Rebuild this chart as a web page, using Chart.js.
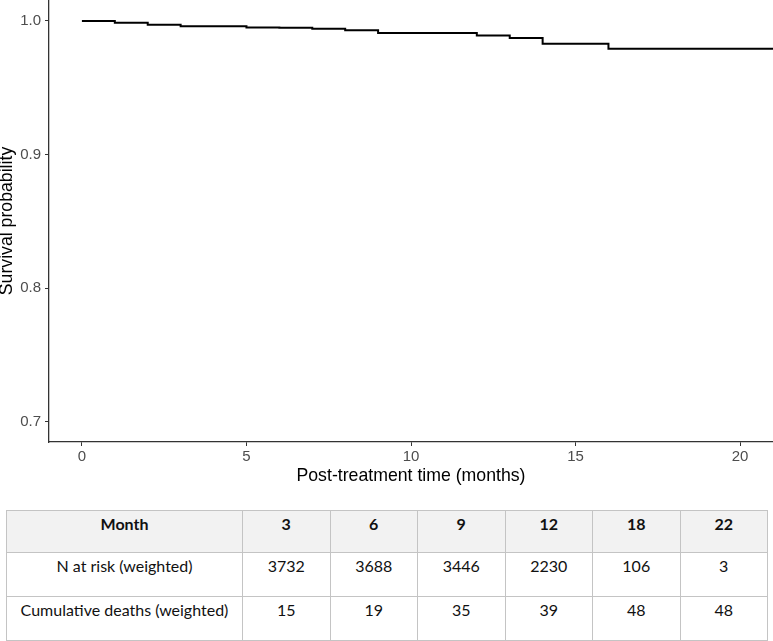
<!DOCTYPE html>
<html>
<head>
<meta charset="utf-8">
<script src="https://cdn.jsdelivr.net/npm/chart.js@4/dist/chart.umd.min.js"></script>
<style>
    html, body { margin: 0; padding: 0; background: #fff; }
    #wrap { position: absolute; left: 0; top: 0; width: 773px; height: 492px; }
    #risk {
        position: absolute; left: 6px; top: 510px; width: 762px;
        border-collapse: collapse; table-layout: fixed;
        font-family: Lato, "Open Sans", sans-serif; font-size: 16px; color: #111;
    }
    #risk td, #risk th {
        border: 1px solid #c4c4c4; text-align: center; vertical-align: top;
        padding: 3px 2px 0 2px; line-height: 19px;
    }
    #risk th { background: #f2f2f2; font-weight: bold; height: 38px; }
    #risk td { height: 40px; }
    #risk col.first { width: 236px; }
</style>
</head>
<body>
<div id="wrap"><canvas id="km"></canvas></div>
<table id="risk"></table>
<script>
// Kaplan-Meier curve (months, survival)
const times    = [0, 1, 2, 3, 5, 6, 7, 8, 9, 12, 13, 14, 16, 21];
const survival = [1.0, 0.9987, 0.9972, 0.996, 0.9952, 0.995, 0.9942, 0.993, 0.991, 0.9892, 0.9873, 0.983, 0.9793, 0.9793];

const xTicks = [0, 5, 10, 15, 20];
const yTicks = [0.7, 0.8, 0.9, 1.0];

// risk table
const months      = [3, 6, 9, 12, 18, 22];
const nAtRisk     = [3732, 3688, 3446, 2230, 106, 3];
const cumDeaths   = [15, 19, 35, 39, 48, 48];

document.addEventListener("DOMContentLoaded", () => {
    const tickFont = { family: "'Liberation Sans', Arial, sans-serif", size: 15 };
    const titleFont = { family: "'Liberation Sans', Arial, sans-serif", size: 17.7 };
    const yTitleFont = { ...titleFont, lineHeight: 0.75 };

    new Chart(document.getElementById('km'), {
        type: 'line',
        data: {
            datasets: [{
                data: times.map((t, i) => ({ x: t, y: survival[i] })),
                borderColor: '#000',
                borderWidth: 2,
                stepped: true,
                pointRadius: 0,
                fill: false
            }]
        },
        options: {
            responsive: true,
            maintainAspectRatio: false,
            animation: false,
            layout: { padding: 0 },
            plugins: { legend: { display: false }, tooltip: { enabled: false } },
            scales: {
                x: {
                    type: 'linear',
                    min: -1,
                    max: 21,
                    afterBuildTicks: s => { s.ticks = xTicks.map(v => ({ value: v })); },
                    afterFit: s => { s.height = 50; s.paddingLeft = 0; s.paddingRight = 0; },
                    border: { display: true, color: '#333', width: 1.3 },
                    grid: { drawOnChartArea: false, drawTicks: true, tickLength: 4, color: '#333' },
                    ticks: { font: tickFont, color: '#4d4d4d', padding: 2, maxRotation: 0 },
                    title: { display: true, text: 'Post-treatment time (months)', font: titleFont, color: '#000', padding: { top: 0, bottom: 5 } }
                },
                y: {
                    min: 0.685,
                    max: 1.0157,
                    afterBuildTicks: s => { s.ticks = yTicks.map(v => ({ value: v })); },
                    afterFit: s => { s.width = 49; s.paddingTop = 0; s.paddingBottom = 0; },
                    border: { display: true, color: '#333', width: 1.3 },
                    grid: { drawOnChartArea: false, drawTicks: true, tickLength: 4, color: '#333' },
                    ticks: { font: tickFont, color: '#4d4d4d', padding: 4, callback: v => v.toFixed(1) },
                    title: { display: true, text: 'Survival probability', font: yTitleFont, color: '#000', padding: { top: 0, bottom: 0 } }
                }
            }
        }
    });

    // build the table
    const table = document.getElementById('risk');
    let html = '<colgroup><col class="first">' + months.map(() => '<col>').join('') + '</colgroup>';
    html += '<tr><th>Month</th>' + months.map(m => `<th>${m}</th>`).join('') + '</tr>';
    html += '<tr><td>N at risk (weighted)</td>' + nAtRisk.map(n => `<td>${n}</td>`).join('') + '</tr>';
    html += '<tr><td>Cumulative deaths (weighted)</td>' + cumDeaths.map(n => `<td>${n}</td>`).join('') + '</tr>';
    table.innerHTML = html;
});
</script>
</body>
</html>
